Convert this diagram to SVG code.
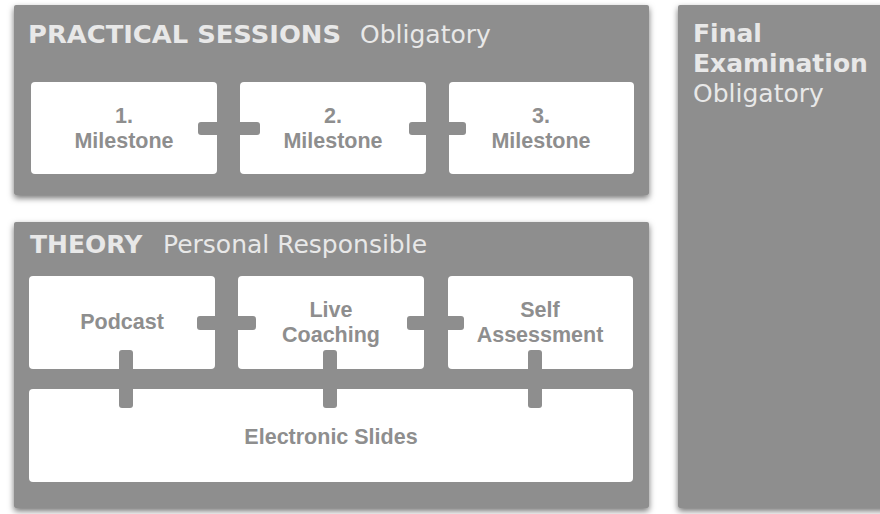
<svg xmlns="http://www.w3.org/2000/svg" width="880" height="514" viewBox="0 0 880 514">
  <defs>
    <filter id="shadow" x="-5%" y="-5%" width="110%" height="115%">
      <feDropShadow dx="0" dy="3" stdDeviation="3" flood-color="#000" flood-opacity="0.55"/>
    </filter>
  </defs>
  <style>
    .panel { fill: #8e8e8e; filter: url(#shadow); }
    .box { fill: #ffffff; }
    .link { fill: #8e8e8e; }
    .head { font-family: "DejaVu Sans", Verdana, sans-serif; font-size: 25px; fill: #e8e8e8; }
    .b { font-weight: bold; }
    .label { font-family: "Liberation Sans", Arial, Helvetica, sans-serif; font-weight: bold; font-size: 21.5px; fill: #8e8e8e; text-anchor: middle; }
  </style>
  <rect width="880" height="514" fill="#ffffff"/>

  <!-- Practical sessions panel -->
  <g id="practical">
    <rect class="panel" x="14" y="5" width="635" height="190" rx="2"/>
    <text class="head b" x="28" y="43" textLength="313" lengthAdjust="spacingAndGlyphs">PRACTICAL SESSIONS</text>
    <text class="head" x="360" y="43">Obligatory</text>
  </g>
  <g id="milestone1">
    <rect class="box" x="31" y="82" width="186" height="92" rx="4"/>
    <text class="label" x="124" y="123">1.</text>
    <text class="label" x="124" y="148">Milestone</text>
  </g>
  <g id="milestone2">
    <rect class="box" x="240" y="82" width="186" height="92" rx="4"/>
    <text class="label" x="333" y="123">2.</text>
    <text class="label" x="333" y="148">Milestone</text>
  </g>
  <g id="milestone3">
    <rect class="box" x="449" y="82" width="185" height="92" rx="4"/>
    <text class="label" x="541" y="123">3.</text>
    <text class="label" x="541" y="148">Milestone</text>
  </g>

  <!-- Theory panel -->
  <g id="theory">
    <rect class="panel" x="14" y="222" width="635" height="286" rx="2"/>
    <text class="head b" x="30" y="253">THEORY</text>
    <text class="head" x="163" y="253">Personal Responsible</text>
  </g>
  <g id="podcast">
    <rect class="box" x="29" y="276" width="186" height="93" rx="4"/>
    <text class="label" x="122" y="329">Podcast</text>
  </g>
  <g id="live-coaching">
    <rect class="box" x="238" y="276" width="186" height="93" rx="4"/>
    <text class="label" x="331" y="317">Live</text>
    <text class="label" x="331" y="342">Coaching</text>
  </g>
  <g id="self-assessment">
    <rect class="box" x="448" y="276" width="185" height="93" rx="4"/>
    <text class="label" x="540" y="317">Self</text>
    <text class="label" x="540" y="342">Assessment</text>
  </g>
  <g id="electronic-slides">
    <rect class="box" x="29" y="389" width="604" height="93" rx="4"/>
    <text class="label" x="331" y="444">Electronic Slides</text>
  </g>

  <!-- Final examination panel -->
  <g id="final">
    <rect class="panel" x="678" y="5" width="210" height="503" rx="2"/>
    <text class="head b" x="693" y="42">Final</text>
    <text class="head b" x="693" y="72">Examination</text>
    <text class="head" x="693" y="102">Obligatory</text>
  </g>

  <!-- Connectors -->
  <g id="connectors">
    <rect class="link" x="198" y="122" width="62" height="13" rx="3"/>
    <rect class="link" x="409" y="122" width="57" height="13" rx="3"/>
    <rect class="link" x="197" y="316" width="59" height="14" rx="3"/>
    <rect class="link" x="407" y="316" width="57" height="14" rx="3"/>
    <rect class="link" x="119" y="350" width="14" height="58" rx="3"/>
    <rect class="link" x="323" y="350" width="14" height="58" rx="3"/>
    <rect class="link" x="528" y="350" width="14" height="58" rx="3"/>
  </g>
</svg>
